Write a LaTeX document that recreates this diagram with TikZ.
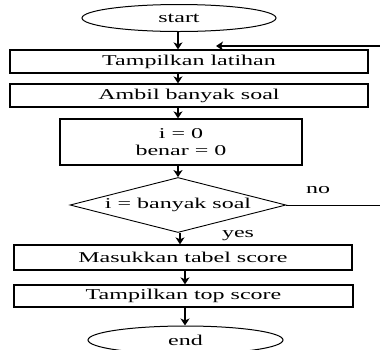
\documentclass[tikz,border=0pt]{standalone}
\usepackage{fontspec}
\setmainfont{Liberation Serif}[FakeStretch=1.6]
\usetikzlibrary{shapes.geometric,arrows.meta}
\begin{document}
\begin{tikzpicture}[x=1pt,y=-1pt,
  every node/.style={font=\fontsize{15}{17}\selectfont, inner sep=0pt},
  procbox/.style={draw, line width=1.3pt, rectangle},
  term/.style={draw, line width=1pt, ellipse},
  decision/.style={draw, line width=0.9pt, diamond, aspect=3.9},
  arr/.style={line width=1.3pt, -{Stealth[length=7pt,width=9pt,inset=2pt]}},
  plain/.style={line width=1pt}]
\useasboundingbox (0,0) rectangle (380,349);
\begin{scope}
\clip (0,0) rectangle (380,349);
\node[term, minimum width=194pt, minimum height=27pt] (start) at (179,18) {start};
\node[procbox, minimum width=358pt, minimum height=23pt] (b1) at (189,61.5) {Tampilkan latihan};
\node[procbox, minimum width=358pt, minimum height=23pt] (b2) at (189,95.5) {Ambil banyak soal};
\node[procbox, minimum width=242pt, minimum height=46pt, align=center] (b3) at (181,142) {i = 0\\benar = 0};
\node[decision, minimum width=216pt, minimum height=55pt] (d) at (178,205) {i = banyak soal};
\node[procbox, minimum width=338pt, minimum height=25pt] (b4) at (183,257.5) {Masukkan tabel score};
\node[procbox, minimum width=339pt, minimum height=22pt] (b5) at (183.5,296) {Tampilkan top score};
\node[term, minimum width=195pt, minimum height=28pt] (end) at (185.5,340) {end};
\node (no) at (318,190) {no};
\node (yes) at (238,236) {yes};
\coordinate (fbstart) at (380,46);
\coordinate (fbend) at (216,46);
\coordinate (noend) at (380,205);

\draw[arr] (start.south -| 178,0) -- (b1.north -| 178,0);
\draw[arr] (b1.south -| 178,0) -- (b2.north -| 178,0);
\draw[arr] (b2.south -| 178,0) -- (b3.north -| 178,0);
\draw[arr] (b3.south -| 178,0) -- (d.north -| 178,0);
\draw[arr] (d.south -| 180,0) -- (b4.north -| 180,0);
\draw[arr] (b4.south -| 185,0) -- (b5.north -| 185,0);
\draw[arr] (b5.south -| 185,0) -- (end.north -| 185,0);
\draw[arr] (fbstart) -- (fbend);
\draw[plain] (d.east) -- (noend);
\end{scope}
\end{tikzpicture}
\end{document}
